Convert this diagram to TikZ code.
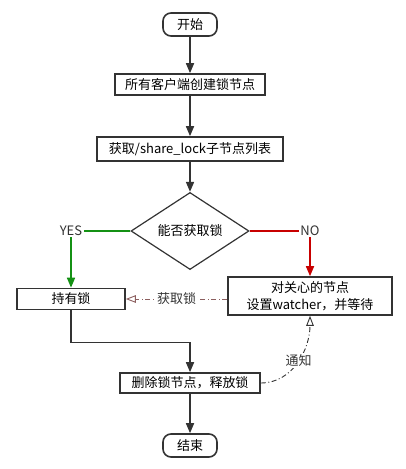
\documentclass[tikz,border=0pt]{standalone}
\usepackage{fontspec}
\newfontfamily\cjk{Noto Sans CJK SC}
\usepackage{tikz}
\usetikzlibrary{positioning, shapes.geometric, arrows.meta}
\definecolor{linegray}{RGB}{51,51,51}
\definecolor{yesgreen}{RGB}{20,145,20}
\definecolor{nored}{RGB}{200,0,0}
\definecolor{waitbrown}{RGB}{140,95,95}
\tikzset{
		flow box/.style={
			rectangle,
			draw=linegray,
			line width=1.6pt,
			align=center,
			inner sep=0pt,
			font=\cjk\fontsize{13}{17}\selectfont
		},
		terminal/.style={
			flow box,
			rounded corners=8pt,
			minimum width=54pt,
			minimum height=23pt
		},
		decision/.style={
			diamond,
			draw=linegray,
			line width=1.2pt,
			inner sep=0pt,
			minimum width=118pt,
			minimum height=52pt,
			font=\cjk\fontsize{13}{17}\selectfont
		},
		flow/.style={
			draw=linegray,
			line width=1.6pt,
			-{Triangle[length=10pt,width=8pt]}
		},
		hint/.style={
			line width=0.9pt,
			dash pattern=on 5pt off 2.5pt on 1pt off 2.5pt,
			-{Triangle[open,length=10pt,width=7.5pt]}
		},
		tag/.style={
			fill=white,
			inner sep=1.5pt,
			font=\cjk\fontsize{13}{17}\selectfont
		}
	}
\begin{document}
\begin{tikzpicture}[x=1pt, y=-1pt]
		\useasboundingbox (0,0) rectangle (406,469);
		% main column
		\node (start) [terminal] at (190,24.5) {开始};
		\node (create) [flow box, minimum width=150pt, minimum height=21pt] at (190,84.5) {所有客户端创建锁节点};
		\node (list) [flow box, minimum width=186pt, minimum height=24pt] at (190,149) {获取/share\_lock子节点列表};
		\node (check) [decision] at (190,231) {能否获取锁};
		\node (hold) [flow box, minimum width=108pt, minimum height=21pt] at (71,299) {持有锁};
		\node (watch) [flow box, minimum width=164pt, minimum height=38pt] at (310,296) {对关心的节点\\设置watcher，并等待};
		\node (release) [flow box, minimum width=140pt, minimum height=20pt] at (190,383) {删除锁节点，释放锁};
		\node (stop) [terminal] at (190,445.5) {结束};
		%arrows:
		\draw[flow] (start) -- (create);
		\draw[flow] (create) -- (list);
		\draw[flow] (list) -- (check);
		\draw[flow, draw=yesgreen] (check.west) -| node[tag, text=linegray, pos=0.5] {YES} (hold.north);
		\draw[flow, draw=nored] (check.east) -| node[tag, text=linegray, pos=0.5] {NO} (watch.north);
		\draw[flow] (hold.south) -- ++(0,32) -| (release.north);
		\draw[flow] (release) -- (stop);
		% waiting
		\draw[hint, waitbrown] (watch.west |- hold.east) -- node[tag, text=linegray] {获取锁} (hold.east);
		\draw[hint, linegray] (release.east) to[out=0, in=-90] node[tag, pos=0.52] {通知} (watch.south);
	\end{tikzpicture}
\end{document}
